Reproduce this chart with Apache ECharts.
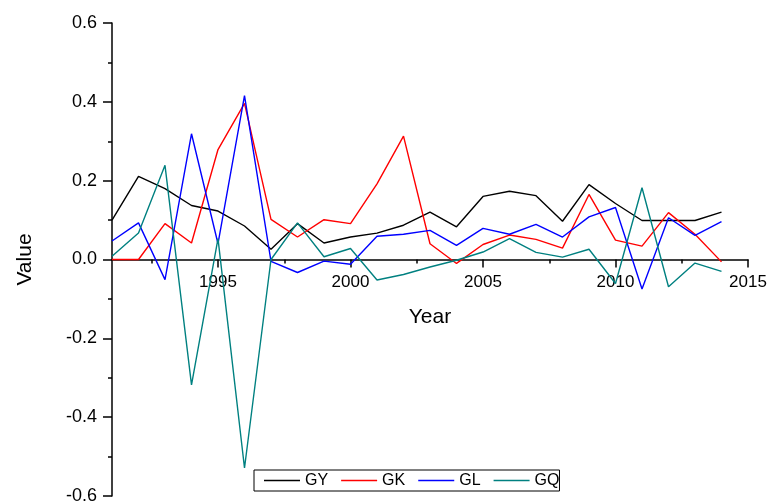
<!DOCTYPE html>
<html>
<head>
<meta charset="utf-8">
<script src="https://cdn.jsdelivr.net/npm/echarts@6/dist/echarts.min.js"></script>
<style>
  html, body { margin: 0; padding: 0; background: #fff; }
  #chart { width: 770px; height: 503px; }
</style>
</head>
<body>
<div id="chart"></div>
<script>
// Annual growth series, 1991-2014
var years = [1991, 1992, 1993, 1994, 1995, 1996, 1997, 1998, 1999, 2000, 2001, 2002,
             2003, 2004, 2005, 2006, 2007, 2008, 2009, 2010, 2011, 2012, 2013, 2014];
var GY = [0.100, 0.211, 0.180, 0.137, 0.123, 0.085, 0.026, 0.091, 0.042, 0.057, 0.067, 0.087,
          0.120, 0.083, 0.160, 0.173, 0.162, 0.097, 0.190, 0.142, 0.099, 0.099, 0.099, 0.120];
var GK = [0.000, 0.000, 0.091, 0.042, 0.279, 0.396, 0.102, 0.057, 0.101, 0.091, 0.192, 0.313,
          0.040, -0.010, 0.038, 0.062, 0.051, 0.029, 0.165, 0.049, 0.034, 0.119, 0.064, -0.006];
var GL = [0.047, 0.093, -0.051, 0.319, 0.040, 0.416, -0.005, -0.033, -0.004, -0.012, 0.059, 0.064,
          0.074, 0.036, 0.079, 0.064, 0.089, 0.057, 0.108, 0.132, -0.075, 0.106, 0.061, 0.096];
var GQ = [0.008, 0.067, 0.239, -0.318, 0.053, -0.529, 0.000, 0.093, 0.007, 0.028, -0.052, -0.038,
          -0.019, -0.002, 0.019, 0.053, 0.018, 0.006, 0.026, -0.061, 0.182, -0.069, -0.009, -0.030];

var seriesNames = ['GY', 'GK', 'GL', 'GQ'];
var seriesValues = [GY, GK, GL, GQ];
var seriesColors = ['#000000', '#ff0000', '#0000ff', '#008080'];

// Axis ticks
var xMajorTicks = [1995, 2000, 2005, 2010, 2015];
var xMinorTicks = [1992.5, 1997.5, 2002.5, 2007.5, 2012.5];
var yMin = -0.6, yMax = 0.6;

var FONT = 'Arial, "Liberation Sans", sans-serif';

// plot area
var W = 770, H = 503;
var GRID = { left: 112, right: 22, top: 23, bottom: 7 };
var plotH = H - GRID.top - GRID.bottom;
// the year axis crosses the value axis at 0
var zeroShift = -plotH * (0 - yMin) / (yMax - yMin);

function pairs(vals) {
  return vals.map(function (v, i) { return [years[i], v]; });
}

var chart = echarts.init(document.getElementById('chart'), null, { renderer: 'canvas' });

chart.setOption({
  animation: false,
  backgroundColor: '#ffffff',
  grid: { left: GRID.left, right: GRID.right, top: GRID.top, bottom: GRID.bottom,
          containLabel: false, outerBoundsMode: 'none' },
  legend: {
    data: seriesNames,
    left: 254,
    top: 470,
    orient: 'horizontal',
    icon: 'rect',
    itemWidth: 36,
    itemHeight: 1.5,
    itemGap: 13,
    padding: [2, 0, 2, 10],
    borderColor: '#000',
    borderWidth: 1,
    textStyle: { color: '#000', fontSize: 16, lineHeight: 17, fontFamily: FONT }
  },
  xAxis: [
    {
      type: 'value',
      min: 1991,
      max: 2015,
      position: 'bottom',
      offset: zeroShift,
      name: 'Year',
      nameLocation: 'middle',
      nameGap: 47,
      nameTextStyle: { color: '#000', fontSize: 21, fontFamily: FONT },
      axisLine: { show: true, onZero: false, lineStyle: { color: '#000', width: 1.5 } },
      axisTick: { show: true, customValues: xMajorTicks, length: 8, inside: false,
                  lineStyle: { color: '#000', width: 1.5 } },
      axisLabel: { show: true, customValues: xMajorTicks, margin: 14, color: '#000',
                   fontSize: 17, fontFamily: FONT, formatter: function (v) { return String(v); } },
      splitLine: { show: false }
    },
    {
      type: 'value',
      min: 1991,
      max: 2015,
      position: 'bottom',
      offset: zeroShift,
      axisLine: { show: false, onZero: false },
      axisTick: { show: true, customValues: xMinorTicks, length: 4, inside: false,
                  lineStyle: { color: '#000', width: 1.5 } },
      axisLabel: { show: false },
      splitLine: { show: false }
    }
  ],
  yAxis: {
    type: 'value',
    min: yMin,
    max: yMax,
    interval: 0.2,
    name: 'Value',
    nameLocation: 'middle',
    nameGap: 76,
    nameTextStyle: { color: '#000', fontSize: 21, fontFamily: FONT },
    axisLine: { show: true, onZero: false, lineStyle: { color: '#000', width: 1.5 } },
    axisTick: { show: true, length: 9, inside: false, lineStyle: { color: '#000', width: 1.5 } },
    minorTick: { show: true, splitNumber: 2, length: 4, lineStyle: { color: '#000', width: 1.5 } },
    axisLabel: { margin: 15, color: '#000', fontSize: 18, fontFamily: FONT,
                 formatter: function (v) { return v.toFixed(1); } },
    splitLine: { show: false },
    minorSplitLine: { show: false }
  },
  series: seriesNames.map(function (name, i) {
    return {
      name: name,
      type: 'line',
      xAxisIndex: 0,
      data: pairs(seriesValues[i]),
      symbol: 'none',
      showSymbol: false,
      color: seriesColors[i],
      itemStyle: { color: seriesColors[i] },
      lineStyle: { color: seriesColors[i], width: 1.4 },
      z: 2 + i
    };
  })
});
</script>
</body>
</html>
